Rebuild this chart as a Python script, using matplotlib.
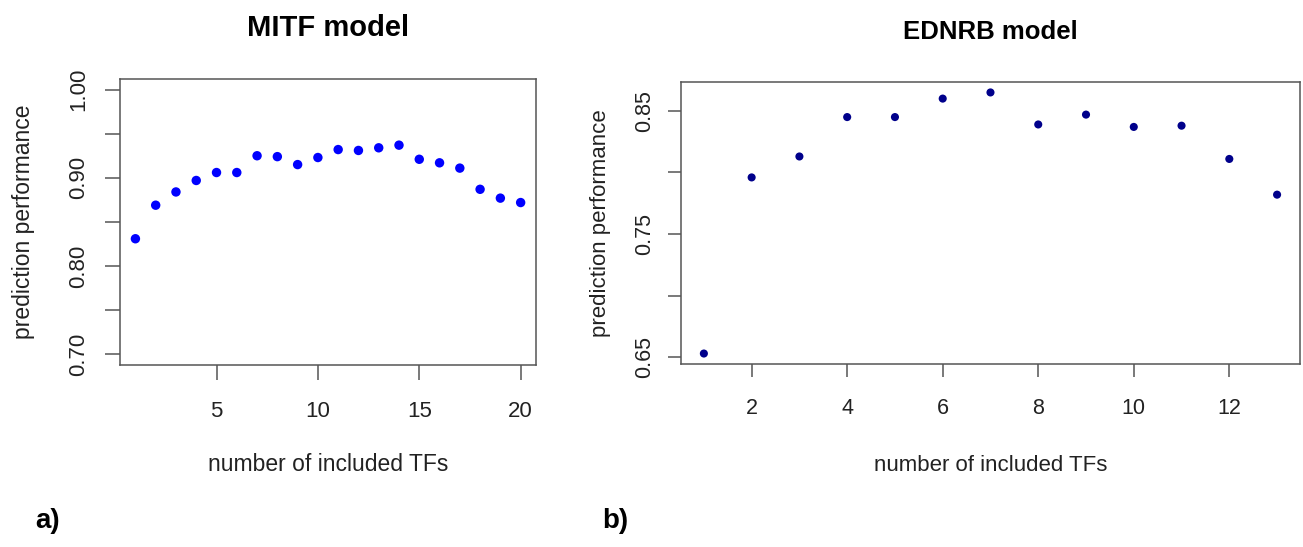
import numpy as np
import matplotlib.pyplot as plt

# datos
mitf_n = list(range(1, 21))
mitf_perf = [0.831, 0.869, 0.884, 0.897, 0.906, 0.906, 0.925, 0.924, 0.915, 0.923,
             0.932, 0.931, 0.934, 0.937, 0.921, 0.917, 0.911, 0.887, 0.877, 0.872]

ednrb_n = list(range(1, 14))
ednrb_perf = [0.653, 0.796, 0.813, 0.845, 0.845, 0.860, 0.865, 0.839, 0.847,
              0.837, 0.838, 0.811, 0.782]

mitf_yticks = [0.70, 0.75, 0.80, 0.85, 0.90, 0.95, 1.00]
mitf_ylabels = ["0.70", "", "0.80", "", "0.90", "", "1.00"]
mitf_xticks = [5, 10, 15, 20]
ednrb_yticks = [0.65, 0.70, 0.75, 0.80, 0.85]
ednrb_ylabels = ["0.65", "", "0.75", "", "0.85"]
ednrb_xticks = [2, 4, 6, 8, 10, 12]

plt.rcParams['font.family'] = ['Liberation Sans', 'DejaVu Sans']

gris = '#555555'
txt = '#222222'


def r_lim(v):
    # rango con el 4% extra como en R
    lo, hi = min(v), max(v)
    d = (hi - lo) * 0.04
    return lo - d, hi + d


def estilo_r(ax, xt, yt, ylab, tlen, ypad, lpad, xlpad, fs):
    for s in ax.spines.values():
        s.set_color(gris)
        s.set_linewidth(1.1)
    ax.set_xticks(xt)
    ax.set_yticks(yt)
    ax.set_yticklabels(ylab, rotation=90, va='center')
    ax.set_xticklabels([str(x) for x in xt])
    ax.tick_params(axis='both', length=tlen, width=1.1, color=gris,
                   labelsize=fs, labelcolor=txt)
    ax.tick_params(axis='x', pad=15)
    ax.tick_params(axis='y', pad=ypad)
    ax.set_xlabel("number of included TFs", fontsize=fs + 0.5, color=txt, labelpad=xlpad)
    ax.set_ylabel("prediction performance", fontsize=fs + 0.5, color=txt, labelpad=lpad)


fig = plt.figure(figsize=(13.03, 5.47), dpi=100)

# Panel a) MITF
ax1 = fig.add_axes([0.0921, 0.3327, 0.3193, 0.523])
ax1.scatter(mitf_n, mitf_perf, s=46, color='#0000ff', edgecolors='none', zorder=3)
ax1.set_xlim(r_lim(mitf_n))
ax1.set_ylim(r_lim([0.70, 1.00]))
estilo_r(ax1, mitf_xticks, mitf_yticks, mitf_ylabels, 11, 11, 24, 22, 16)
ax1.set_title("MITF model", fontsize=21, fontweight='bold', pad=31)

# Panel b) EDNRB
ax2 = fig.add_axes([0.5226, 0.3346, 0.4751, 0.5155])
ax2.scatter(ednrb_n, ednrb_perf, s=34, color='#00008b', edgecolors='none', zorder=3)
ax2.set_xlim(r_lim(ednrb_n))
ax2.set_ylim(r_lim(ednrb_perf))
estilo_r(ax2, ednrb_xticks, ednrb_yticks, ednrb_ylabels, 9.5, 9, 17, 26, 15.5)
ax2.set_title("EDNRB model", fontsize=18.5, fontweight='bold', pad=31)

fig.text(0.027, 0.035, "a)", fontsize=20, fontweight='bold')
fig.text(0.462, 0.035, "b)", fontsize=20, fontweight='bold')

fig.savefig("out.png", dpi=100)
